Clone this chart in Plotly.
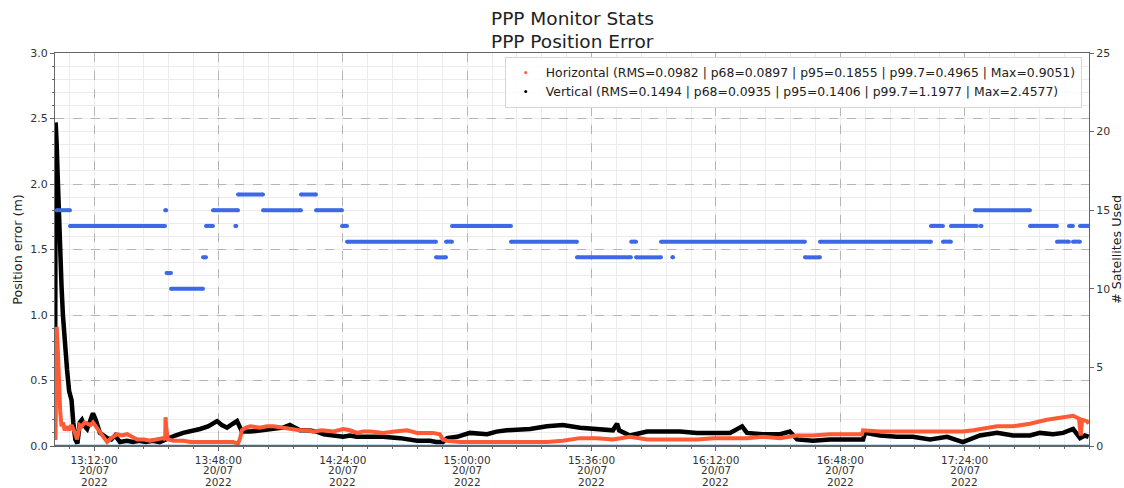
import pandas as pd
import plotly.graph_objects as go

# ---------------- data ----------------
title_lines = ["PPP Monitor Stats", "PPP Position Error"]
base_time = "2022-07-20 13:00:00"

horiz_label = "Horizontal (RMS=0.0982 | p68=0.0897 | p95=0.1855 | p99.7=0.4965 | Max=0.9051)"
vert_label = "Vertical (RMS=0.1494 | p68=0.0935 | p95=0.1406 | p99.7=1.1977 | Max=2.4577)"

# minutes after 13:00 and horizontal error (m)
horiz_minutes = [0.71, 0.9, 1.2, 1.5, 1.8, 2.2, 2.6, 3.0, 3.5, 4.2, 4.8, 5.5, 6.5, 7.1, 7.9, 8.5,
                 9.3, 10.0, 11.0, 11.7, 12.5, 13.7, 14.8, 15.8, 17.0, 18.7, 20.0, 21.6, 23.0, 24.5,
                 26.5, 28.2, 30.0, 32.0, 32.6, 32.7, 32.9, 33.4, 35.0, 37.8, 40.0, 42.7, 46.0, 50.0,
                 52.2, 53.7, 54.3, 54.8, 56.0, 57.2, 60.0, 62.1, 64.0, 66.7, 68.7, 71.6, 74.0, 75.4,
                 78.0, 81.2, 84.1, 86.1, 88.1, 89.9, 92.0, 94.8, 95.7, 99.0, 101.4, 102.6, 105.5,
                 108.0, 110.1, 112.1, 113.0, 114.2, 118.0, 123.7, 128.0, 133.3, 138.2, 143.1, 147.7,
                 152.7, 157.6, 162.2, 167.1, 172.1, 176.7, 181.6, 186.5, 191.2, 196.1, 201.0, 205.6,
                 210.6, 215.5, 220.1, 225.0, 229.9, 234.3, 234.6, 239.5, 244.4, 249.0, 254.0, 258.9,
                 263.5, 266.5, 268.4, 273.4, 278.0, 282.9, 287.8, 292.5, 295.4, 297.1, 297.6, 298.0,
                 299.4, 299.9]
horiz_values = [0.05, 0.50, 0.91, 0.75, 0.45, 0.27, 0.15, 0.18, 0.12, 0.15, 0.12, 0.16, 0.10, 0.05,
                0.16, 0.15, 0.18, 0.17, 0.16, 0.18, 0.15, 0.11, 0.06, 0.03, 0.06, 0.09, 0.08, 0.09,
                0.07, 0.05, 0.05, 0.04, 0.05, 0.06, 0.05, 0.22, 0.14, 0.05, 0.04, 0.04, 0.03, 0.03,
                0.03, 0.03, 0.03, 0.02, 0.06, 0.12, 0.14, 0.15, 0.14, 0.15, 0.15, 0.14, 0.13, 0.12,
                0.12, 0.11, 0.12, 0.11, 0.13, 0.12, 0.10, 0.11, 0.11, 0.10, 0.10, 0.11, 0.12, 0.12,
                0.10, 0.10, 0.10, 0.09, 0.05, 0.04, 0.03, 0.03, 0.03, 0.03, 0.03, 0.03, 0.04, 0.06,
                0.06, 0.05, 0.07, 0.05, 0.05, 0.05, 0.05, 0.06, 0.06, 0.06, 0.07, 0.06, 0.08, 0.08,
                0.09, 0.09, 0.09, 0.12, 0.11, 0.11, 0.11, 0.11, 0.11, 0.11, 0.12, 0.13, 0.15, 0.15,
                0.17, 0.20, 0.22, 0.23, 0.21, 0.08, 0.20, 0.19, 0.17]

# minutes after 13:00 and vertical error (m)
vert_minutes = [0.71, 0.9, 1.2, 1.5, 1.8, 2.2, 2.6, 3.0, 3.5, 4.2, 4.8, 5.5, 6.0, 6.6, 7.2, 7.9,
                8.5, 9.3, 10.0, 10.8, 11.7, 12.5, 13.7, 14.8, 15.8, 17.0, 18.1, 19.5, 21.5, 23.3,
                25.0, 27.0, 29.0, 31.0, 33.4, 35.5, 37.8, 40.0, 42.7, 45.0, 47.6, 49.0, 50.5, 52.2,
                53.4, 54.3, 54.8, 57.2, 60.0, 62.1, 64.0, 66.7, 68.7, 71.6, 74.0, 76.5, 78.5, 81.2,
                84.1, 86.1, 88.1, 89.9, 91.0, 94.8, 95.7, 100.6, 102.6, 105.5, 109.3, 111.0, 113.0,
                114.2, 117.1, 120.8, 125.8, 128.5, 131.5, 138.2, 143.1, 147.7, 152.7, 157.6, 162.2,
                163.4, 164.0, 167.1, 172.1, 176.7, 181.6, 186.5, 191.2, 196.1, 199.6, 201.0, 205.6,
                210.6, 213.4, 215.5, 220.1, 225.0, 229.9, 234.6, 235.2, 239.5, 244.4, 249.0, 254.0,
                258.9, 263.5, 265.5, 268.4, 273.4, 278.0, 282.9, 285.8, 289.6, 292.5, 295.4, 297.4,
                298.8, 299.9]
vert_values = [0.05, 2.47, 2.30, 2.05, 1.75, 1.45, 1.22, 1.00, 0.78, 0.58, 0.42, 0.35, 0.18, 0.05,
               0.02, 0.18, 0.20, 0.15, 0.13, 0.18, 0.25, 0.20, 0.10, 0.08, 0.06, 0.05, 0.08, 0.03,
               0.04, 0.03, 0.04, 0.03, 0.04, 0.03, 0.06, 0.08, 0.10, 0.11, 0.13, 0.15, 0.19, 0.16,
               0.14, 0.17, 0.19, 0.14, 0.11, 0.11, 0.12, 0.12, 0.13, 0.14, 0.16, 0.12, 0.12, 0.11,
               0.09, 0.08, 0.07, 0.08, 0.07, 0.07, 0.07, 0.07, 0.07, 0.06, 0.05, 0.04, 0.04, 0.03,
               0.03, 0.06, 0.07, 0.10, 0.09, 0.11, 0.12, 0.13, 0.15, 0.16, 0.14, 0.13, 0.12, 0.17,
               0.12, 0.08, 0.11, 0.11, 0.11, 0.10, 0.10, 0.10, 0.15, 0.10, 0.09, 0.09, 0.11, 0.05,
               0.04, 0.05, 0.05, 0.05, 0.10, 0.08, 0.07, 0.07, 0.05, 0.07, 0.03, 0.05, 0.08, 0.10,
               0.08, 0.08, 0.10, 0.09, 0.10, 0.13, 0.06, 0.08, 0.07]

# satellites used: runs of constant count (start / end minute after 13:00)
sat_start_minutes = [1.2, 5.05, 32.6, 33.0, 34.29, 43.55, 44.42, 46.44, 52.9, 53.68, 60.92, 71.91,
                     76.26, 83.78, 85.23, 110.99, 113.88, 115.62, 132.69, 151.79, 167.5, 168.9,
                     179.4, 176.11, 217.79, 222.13, 254.25, 257.73, 260.04, 268.6, 266.99, 282.91,
                     290.72, 294.2, 295.36, 297.38]
sat_end_minutes = [5.05, 32.55, 32.9, 34.29, 43.55, 44.42, 46.44, 53.68, 53.2, 60.92, 71.91, 76.26,
                   83.78, 85.23, 110.99, 113.88, 115.62, 132.69, 151.79, 167.4, 168.9, 176.11,
                   179.6, 217.79, 222.13, 254.25, 257.73, 260.04, 267.57, 268.9, 282.91, 290.72,
                   294.2, 295.36, 297.38, 300.0]
sat_counts = [15, 14, 15, 11, 10, 12, 14, 15, 14, 16, 15, 16,
              15, 14, 13, 12, 13, 14, 13, 12, 13, 12,
              12, 13, 12, 13, 14, 13, 14, 14, 15, 14,
              13, 14, 13, 14]

baseline_minutes = [0.71, 300.0]
baseline_values = [0.0, 0.0]

x_range_minutes = [0.71, 300.0]
x_tick_minutes = [12, 48, 84, 120, 156, 192, 228, 264]
y_ticks = [0.0, 0.5, 1.0, 1.5, 2.0, 2.5, 3.0]
y2_ticks = [0, 5, 10, 15, 20, 25]

# ---------------- build ----------------
t0 = pd.Timestamp(base_time)


def to_time(mins):
    return [t0 + pd.Timedelta(minutes=m) for m in mins]


sat_x, sat_y = [], []
for s, e, c in zip(sat_start_minutes, sat_end_minutes, sat_counts):
    sat_x += [t0 + pd.Timedelta(minutes=s), t0 + pd.Timedelta(minutes=e), None]
    sat_y += [c, c, None]

ORANGE = "#ff5a36"
BLACK = "#000000"
SATBLUE = "#3d68e6"
BASEBLUE = "#1f77b4"
FONT = "DejaVu Sans"
TICKCOL = "#333333"

fig = go.Figure()

fig.add_trace(go.Scatter(x=to_time(vert_minutes), y=vert_values, mode="lines",
                         line=dict(color=BLACK, width=4.5), showlegend=False, hoverinfo="skip"))
fig.add_trace(go.Scatter(x=to_time(horiz_minutes), y=horiz_values, mode="lines",
                         line=dict(color=ORANGE, width=4.0), showlegend=False, hoverinfo="skip"))
fig.add_trace(go.Scatter(x=to_time(baseline_minutes), y=baseline_values, mode="lines",
                         line=dict(color=BASEBLUE, width=2.5), showlegend=False, hoverinfo="skip"))

# legend entries (small dots as in the reference)
fig.add_trace(go.Scatter(x=[None], y=[None], mode="markers", name=horiz_label,
                         marker=dict(color=ORANGE, size=3)))
fig.add_trace(go.Scatter(x=[None], y=[None], mode="markers", name=vert_label,
                         marker=dict(color=BLACK, size=3)))

fig.add_trace(go.Scatter(x=sat_x, y=sat_y, yaxis="y2", mode="lines+markers",
                         line=dict(color=SATBLUE, width=4),
                         marker=dict(color=SATBLUE, size=4),
                         showlegend=False, hoverinfo="skip", connectgaps=False))

x_range = to_time(x_range_minutes)
tick_vals = to_time(x_tick_minutes)

annotations = []
# title (two lines)
for txt, yy in zip(title_lines, [1.089, 1.028]):
    annotations.append(dict(text=txt, x=0.5, xref="paper", y=yy, yref="paper",
                            xanchor="center", yanchor="middle", showarrow=False,
                            font=dict(family=FONT, size=18.5, color="#222222")))
# second and third lines of the date tick labels
for t in tick_vals:
    for fmt, shift in (("%d/%m", -24), ("%Y", -36)):
        annotations.append(dict(text=t.strftime(fmt), x=t, xref="x", y=0, yref="paper",
                                xanchor="center", yanchor="middle", yshift=shift,
                                showarrow=False,
                                font=dict(family=FONT, size=10.5, color=TICKCOL)))

fig.update_layout(
    width=1124, height=488,
    margin=dict(l=55, r=35, t=53, b=42),
    paper_bgcolor="white", plot_bgcolor="white",
    font=dict(family=FONT, color=TICKCOL, size=11),
    annotations=annotations,
    legend=dict(x=0.993, xanchor="right", y=0.99, yanchor="top",
                bgcolor="rgba(255,255,255,0.85)", bordercolor="#d6d6d6", borderwidth=1,
                font=dict(family=FONT, size=12.4, color="#222222"),
                tracegroupgap=0),
    xaxis=dict(
        range=x_range, type="date",
        tickmode="array", tickvals=tick_vals,
        tickformat="%H:%M:%S",
        showline=True, linecolor="#666666", linewidth=1.2, mirror=True,
        ticks="outside", ticklen=4, tickcolor="#666666",
        showgrid=True, gridcolor="#b5b5b5", griddash="dash", gridwidth=1,
        minor=dict(tickmode="linear", tick0=t0 + pd.Timedelta(minutes=12), dtick=432000,
                   showgrid=True, gridcolor="#ececec", gridwidth=1, griddash="solid",
                   ticks="outside", ticklen=2, tickcolor="#666666"),
        zeroline=False, automargin=False,
        tickfont=dict(size=10.5, color=TICKCOL),
    ),
    yaxis=dict(
        range=[0, 3], tickmode="array", tickvals=y_ticks, tickformat=".1f",
        title=dict(text="Position error (m)", standoff=4, font=dict(size=12.7, color="#222222")),
        showline=True, linecolor="#666666", linewidth=1.2,
        ticks="outside", ticklen=4, tickcolor="#666666",
        showgrid=True, gridcolor="#b5b5b5", griddash="dash", gridwidth=1,
        minor=dict(dtick=0.1, showgrid=True, gridcolor="#ececec", griddash="solid",
                   ticks="outside", ticklen=2, tickcolor="#666666"),
        zeroline=False, automargin=False,
        tickfont=dict(size=11, color=TICKCOL),
    ),
    yaxis2=dict(
        range=[0, 25], overlaying="y", side="right", tickmode="array", tickvals=y2_ticks,
        title=dict(text="# Satellites Used", standoff=6, font=dict(size=12.7, color="#222222")),
        showline=True, linecolor="#666666", linewidth=1.2,
        ticks="outside", ticklen=4, tickcolor="#666666",
        showgrid=False, zeroline=False, automargin=False,
        tickfont=dict(size=11, color=TICKCOL),
    ),
)

fig.write_html("out.html", config={"displayModeBar": False},
               post_script="document.body.style.margin='0';")
